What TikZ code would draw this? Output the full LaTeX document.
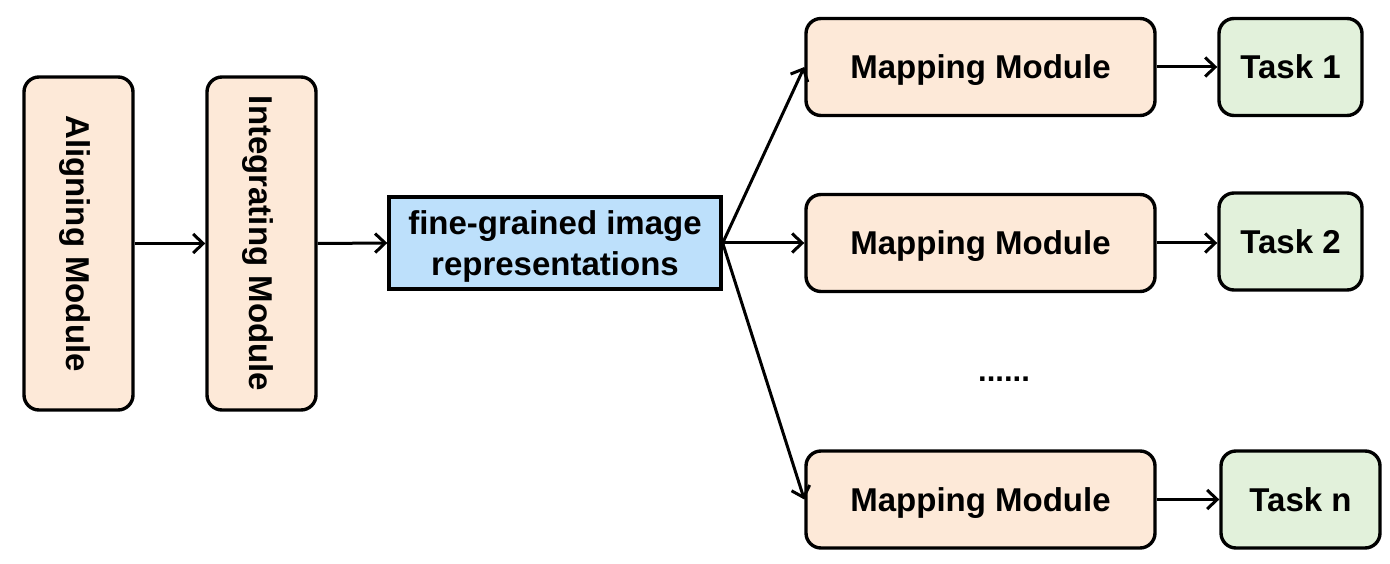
\documentclass[tikz,border=0pt]{standalone}
\usepackage{fontspec}
\setmainfont{Liberation Sans}
\usetikzlibrary{arrows.meta}
\definecolor{peach}{RGB}{253,233,216}
\definecolor{lgreen}{RGB}{226,241,219}
\definecolor{lblue}{RGB}{189,224,251}
\begin{document}
\begin{tikzpicture}[x=1pt,y=-1pt,
  box/.style={draw=black,line width=3.4pt,rounded corners=15pt,inner sep=0pt,align=center,
    text depth=0pt,font=\fontsize{33}{41}\selectfont\bfseries},
  modbox/.style={box,fill=peach},
  taskbox/.style={box,fill=lgreen},
  arr/.style={line width=3pt,-{Straight Barb[length=10pt,width=19pt,line width=3pt]}}]
\useasboundingbox (0,0) rectangle (1390,564);
\node[modbox,rotate=-90,minimum width=333pt,minimum height=109pt] (align) at (78.5,243.5) {Aligning Module};
\node[modbox,rotate=-90,minimum width=333pt,minimum height=109pt] (integ) at (261.5,243.5) {Integrating Module};
\node[box,rounded corners=0pt,fill=lblue,minimum width=332pt,minimum height=92pt] (rep) at (555,243) {fine-grained image\\representations};
\node[modbox,minimum width=349pt,minimum height=97pt] (m1) at (980.5,67) {Mapping Module};
\node[modbox,minimum width=349pt,minimum height=97pt] (m2) at (980.5,243) {Mapping Module};
\node[modbox,minimum width=349pt,minimum height=97pt] (mn) at (980.5,499.5) {Mapping Module};
\node[taskbox,minimum width=143pt,minimum height=97pt] (t1) at (1290.5,67) {Task 1};
\node[taskbox,minimum width=143pt,minimum height=97pt] (t2) at (1290.5,241.5) {Task 2};
\node[taskbox,minimum width=159pt,minimum height=97pt] (tn) at (1300.5,499.5) {Task n};
\node[font=\fontsize{31}{36}\selectfont\bfseries,inner sep=0pt] (dots) at (1004,379) {......};
\draw[arr] (align.north) -- (integ.south);
\draw[arr] (integ.north) -- (rep.west);
\draw[arr] (rep.east) -- (m1.west);
\draw[arr] (rep.east) -- (m2.west);
\draw[arr] (rep.east) -- (mn.west);
\draw[arr] (m1.east) -- (t1.west);
\draw[arr] (m2.east) -- (m2.east -| t2.west);
\draw[arr] (mn.east) -- (tn.west);
\end{tikzpicture}
\end{document}
